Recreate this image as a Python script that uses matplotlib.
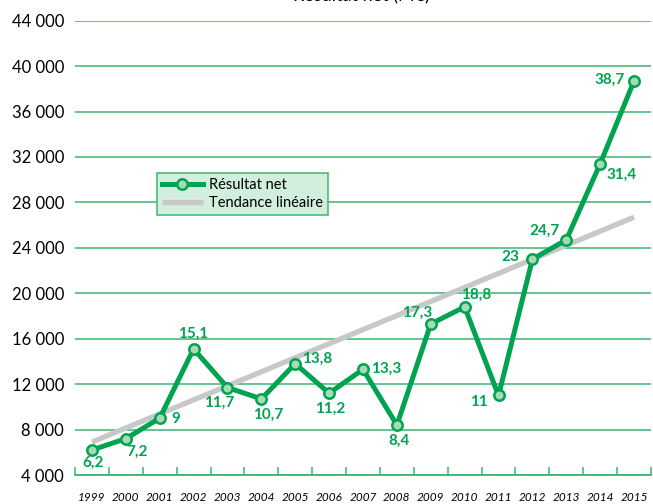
import numpy as np
import matplotlib
matplotlib.use('Agg')
import matplotlib.pyplot as plt

# data (M€)
years = ['1999', '2000', '2001', '2002', '2003', '2004', '2005', '2006', '2007',
         '2008', '2009', '2010', '2011', '2012', '2013', '2014', '2015']
resultat = [6.2, 7.2, 9, 15.1, 11.7, 10.7, 13.8, 11.2, 13.3,
            8.4, 17.3, 18.8, 11, 23, 24.7, 31.4, 38.7]
labels = ['6,2', '7,2', '9', '15,1', '11,7', '10,7', '13,8', '11,2', '13,3',
          '8,4', '17,3', '18,8', '11', '23', '24,7', '31,4', '38,7']
trend_ends = [6.9, 26.7]  # linear trend at 1999 and 2015
yticks = [4000, 8000, 12000, 16000, 20000, 24000, 28000, 32000, 36000, 40000, 44000]

# label offsets in pixels
offsets = [(1, -13), (11, -13), (16, -1), (0, 15), (-8, -15), (7, -16), (22, 5),
           (1, -16), (23, 1), (2, -16), (-14, 11), (12, 12), (-20, -7),
           (-22, 2), (-22, 9), (21, -11), (-24, 1)]

green = '#00a34f'
grid_green = '#3cb56f'
plt.rcParams['font.family'] = ['Lato', 'DejaVu Sans']

fig = plt.figure(figsize=(6.53, 5.04), dpi=100)
ax = fig.add_axes([75 / 653, 29 / 504, 576 / 653, 454.3 / 504])

x = np.arange(len(years))
y = np.array(resultat) * 1000

ax.plot([x[0], x[-1]], np.array(trend_ends) * 1000, color='#c8c8c8', lw=3.8,
        solid_capstyle='butt', label='Tendance linéaire', zorder=2)
ax.plot(x, y, color=green, lw=3.6, marker='o', ms=7.5, mfc='#a6dbb5',
        mec=green, mew=1.8, label='Résultat net', zorder=3)

for xi, yi, lab, off in zip(x, y, labels, offsets):
    ax.annotate(lab, (xi, yi), xytext=off, textcoords='offset pixels',
                ha='center', va='center', color=green, fontsize=11,
                fontweight='bold')

ax.set_xlim(-0.5, len(years) - 0.5)
ax.set_ylim(4000, 44000)
ax.set_yticks(yticks)
ax.set_yticklabels([f'{v:,}'.replace(',', ' ') for v in yticks])
ax.yaxis.grid(True, color=grid_green, lw=1.1)
ax.set_axisbelow(True)
ax.tick_params(axis='y', length=0, pad=8, labelsize=12)

ax.set_xticks(x)
ax.set_xticklabels(years, fontstyle='italic', fontsize=8.5)
ax.set_xticks(np.arange(-0.5, len(years)), minor=True)
ax.tick_params(axis='x', which='major', length=0, pad=12)
ax.tick_params(axis='x', which='minor', direction='in', length=6,
               color=grid_green, width=1.1)

for s in ['top', 'right', 'left']:
    ax.spines[s].set_visible(False)
ax.spines['bottom'].set_color(grid_green)
ax.spines['bottom'].set_linewidth(1.3)

handles, labs = ax.get_legend_handles_labels()
leg = ax.legend(handles[::-1], labs[::-1], loc='upper left',
                bbox_to_anchor=(0.142, 0.665), borderaxespad=0,
                fancybox=False, fontsize=10.5, handlelength=2.8,
                handletextpad=0.4, borderpad=0.35, labelspacing=0.25,
                frameon=True)
leg.get_frame().set_facecolor('#d2eedc')
leg.get_frame().set_edgecolor('#3cb56f')
leg.get_frame().set_alpha(1)
leg.get_frame().set_linewidth(1.1)

fig.text(0.553, 0.998, 'Résultat net (M€)', ha='center', va='baseline',
         fontsize=13)

fig.savefig('out.png', dpi=100)
